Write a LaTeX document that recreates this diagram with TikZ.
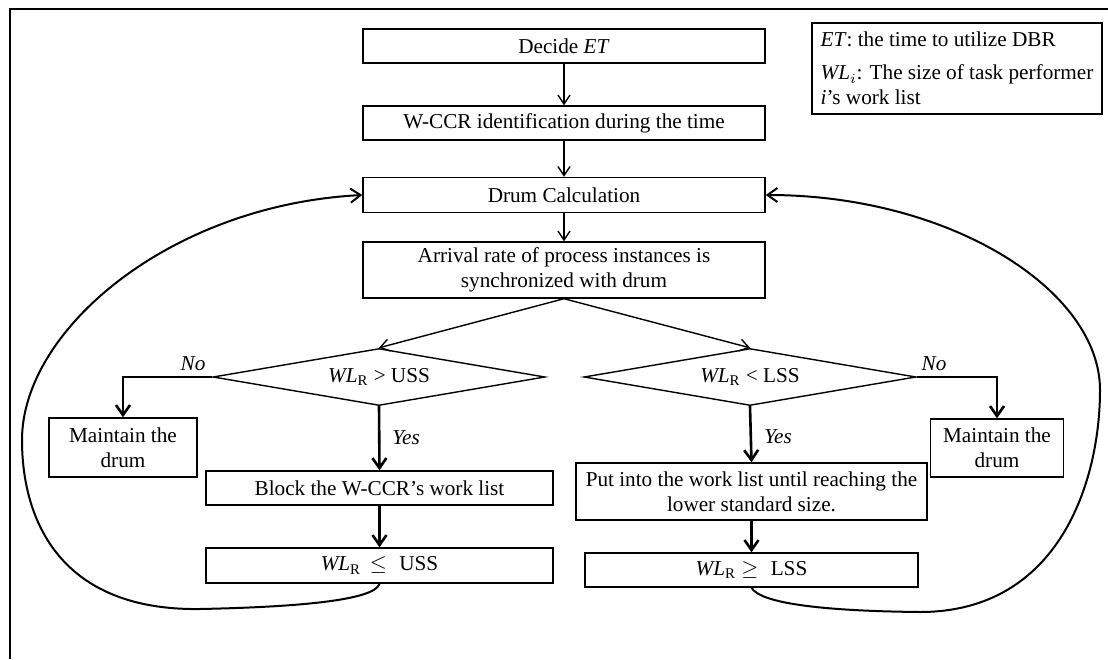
\documentclass[tikz,border=0pt]{standalone}
\usepackage{fontspec}
\setmainfont{Liberation Serif}
\usetikzlibrary{shapes.geometric,arrows.meta}
\begin{document}
\begin{tikzpicture}[x=0.5pt,y=-0.5pt,
  every node/.style={font=\fontsize{10.6}{12.5}\selectfont},
  box/.style={draw,line width=0.7pt,inner sep=1pt,align=center},
  dia/.style={draw,diamond,line width=0.7pt,inner sep=0pt,shape aspect=5.8,minimum width=166pt,minimum height=28.5pt},
  thinarr/.style={line width=0.7pt,-{Straight Barb[length=4.5pt,width=6pt]}},
  thickarr/.style={line width=1.3pt,-{Straight Barb[length=5pt,width=7pt,line width=1.3pt]}},
  loop/.style={line width=1pt,-{Straight Barb[length=5pt,width=7pt]}},
  lab/.style={font=\fontsize{10.6}{12.5}\selectfont\itshape}]
\useasboundingbox (0,0) rectangle (1108,659);
\draw[line width=0.8pt] (10,659) -- (10,9) -- (1108,9);

\node[box,minimum width=145pt,minimum height=45.5pt,align=left,inner xsep=2pt] (legend) at (957,68.5)
  {\textit{ET}: the time to utilize DBR\\[4pt]\textit{WL$_{i}$}: The size of task performer\\\textit{i}'s work list};

\node[box,minimum width=201pt,minimum height=17pt] (decide) at (564,46) {Decide \textit{ET}};
\node[box,minimum width=201pt,minimum height=17pt] (wccr) at (564,123) {W-CCR identification during the time};
\node[box,minimum width=201pt,minimum height=17.5pt] (drum) at (564,195) {Drum Calculation};
\node[box,minimum width=201pt,minimum height=28pt] (arrival) at (564,270) {Arrival rate of process instances is\\synchronized with drum};

\node[dia] (dL) at (379,377) {\textit{WL}\textsubscript{R} > USS};
\node[dia] (dR) at (750,377) {\textit{WL}\textsubscript{R} < LSS};

\node[box,minimum width=74pt,minimum height=29.5pt] (mL) at (123,447.5) {Maintain the\\drum};
\node[box,minimum width=173.5pt,minimum height=17pt] (block) at (379.5,488) {Block the W-CCR's work list};
\node[box,minimum width=173.5pt,minimum height=17.5pt] (wlL) at (379.5,565.5) {\textit{WL}\textsubscript{R} \,$\leq$\,\, USS};

\node[box,minimum width=66.5pt,minimum height=29pt] (mR) at (997,448) {Maintain the\\drum};
\node[box,minimum width=175.5pt,minimum height=28.5pt] (put) at (751.5,491.5) {Put into the work list until reaching the\\lower standard size.};
\node[box,minimum width=166.5pt,minimum height=17pt] (wlR) at (751.5,570) {\textit{WL}\textsubscript{R} $\geq$\,\, LSS};

\draw[thinarr] (decide) -- (wccr);
\draw[thinarr] (wccr) -- (drum);
\draw[thinarr] (drum) -- (arrival);
\draw[thinarr] (arrival.south) -- (dL.north);
\draw[thinarr] (arrival.south) -- (dR.north);

\draw[thickarr] (dL.west) -| (mL.north);
\draw[thickarr] (dR.east) -| (mR.north);
\draw[thickarr] (dL.south) -- (block.north);
\draw[thickarr] (block) -- (wlL);
\draw[thickarr] (dR.south) -- (put.north);
\draw[thickarr] (put) -- (wlR);

\node[lab] (noL) at (193,364) {No};
\node[lab] (noR) at (934,364) {No};
\node[lab] (yesL) at (406,438) {Yes};
\node[lab] (yesR) at (778,437) {Yes};

\draw[loop] (wlL.south) .. controls (375,600) and (300,607) .. (200,609)
  .. controls (60,611) and (22,520) .. (22,440)
  .. controls (22,330) and (170,205) .. (drum.west);
\draw[loop] (wlR.south) .. controls (760,603) and (820,611) .. (920,612)
  .. controls (1060,612) and (1100,480) .. (1100,390)
  .. controls (1100,290) and (950,195) .. (drum.east);
\end{tikzpicture}
\end{document}
